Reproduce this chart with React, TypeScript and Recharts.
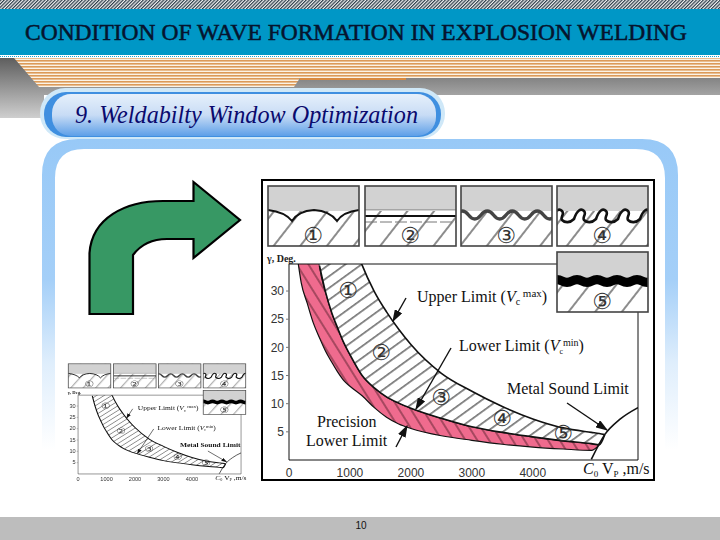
import React from 'react';
import { Area, ComposedChart, Line, ReferenceLine, XAxis, YAxis } from 'recharts';

// values: plate velocity (m/s) against collision angle (deg)
const VELOCITY = [150, 200, 300, 400, 500, 600, 700, 800, 900, 1000, 1200, 1400, 1600, 1800, 2000, 2500, 3000, 3500, 4000, 4500, 4960, 5090, 5180, 5426, 5726];
const PRECISION_LIMIT = [35, 31.5, 27.8, 24.3, 21.7, 19.3, 17.4, 15.6, 14.1, 13.1, 11.4, 9.3, 7.6, 6.4, 5.6, 4.3, 3.5, 2.8, 2.3, 1.95, 1.7, 2.7, null, null, null];
const LOWER_LIMIT = [70, 65, 56, 46, 34.5, 29.8, 26.2, 23.4, 20.8, 18.7, 15, 12.8, 11.2, 10.1, 9.2, 7.4, 5.9, 4.9, 4.1, 3.4, 2.9, 2.7, 4.5, null, null];
const UPPER_LIMIT = [null, null, null, null, 62, 56, 52, 48, 44.5, 41, 34.6, 29.9, 26.3, 23.2, 20.5, 15.4, 12.2, 9.5, 7.3, 5.7, 4.9, 4.7, 4.5, null, null];
const SOUND_LIMIT = [null, null, null, null, null, null, null, null, null, null, null, null, null, null, null, null, null, null, null, null, 0.1, null, 4.5, 7.2, 9.3];

const X_TICKS = [0, 1000, 2000, 3000, 4000];
const Y_TICKS = [5, 10, 15, 20, 25, 30];
const X_MAX = 5726;
const Y_MAX = 34.8;

const PANEL_X = [268, 365, 461, 557];
const CIRCLED = ['①', '②', '③', '④', '⑤'];

const chartData = VELOCITY.map((v, i) => {
    const low = PRECISION_LIMIT[i];
    const mid = LOWER_LIMIT[i];
    const high = UPPER_LIMIT[i];
    return {
        v,
        pink: low != null && mid != null ? [low, mid] : null,
        band: mid != null && high != null ? [mid, high] : null,
        sound: SOUND_LIMIT[i],
    };
});

const SERIF = '"Liberation Serif", serif';
const SANS = '"Liberation Sans", sans-serif';

// wavy interface line for the small sketches
function wave(x0: number, x1: number, y: number, amp: number, period: number) {
    let d = `M${x0},${y} Q${x0 + period / 4},${y - amp * 2} ${x0 + period / 2},${y}`;
    for (let x = x0 + period / 2; x < x1; x += period / 2) d += ` T${x + period / 2},${y}`;
    return d;
}

// same idea, but each crest curls over
function curl(x0: number, x1: number, y: number) {
    let d = `M${x0},${y}`;
    for (let x = x0; x < x1; x += 22) d += ' c3,-9 7,-11 10,-8 c3,3 -2,6 0,9 c3,3 8,3 12,-1';
    return d;
}

function Panel({ x, y, n, id, children }: { x: number; y: number; n: number; id: string; children?: React.ReactNode }) {
    const clip = `clip-${id}-${n}`;
    return (
        <g>
            <clipPath id={clip}><rect x={x} y={y} width={91} height={60} /></clipPath>
            <rect x={x} y={y} width={91} height={60} fill={`url(#sketch-${id})`} />
            <rect x={x} y={y} width={91} height={y > 200 ? 27 : 25} fill="#d2d2d2" />
            <g clipPath={`url(#${clip})`}>{children}</g>
            <rect x={x} y={y} width={91} height={60} fill="none" stroke="#444" strokeWidth={1.6} />
            <text x={x + 45} y={y + 57} fontFamily="DejaVu Sans" fontSize={22} textAnchor="middle" fill="#333">{CIRCLED[n]}</text>
        </g>
    );
}

function Figure({ id, mini }: { id: string; mini?: boolean }) {
    const lineWidth = mini ? 2.4 : 1.6;
    return (
        <div style={{ position: 'relative', width: 394, height: 302, background: '#fff' }}>
            <ComposedChart
                width={394}
                height={302}
                data={chartData}
                margin={{ top: 85, right: 17, bottom: 0, left: 0 }}
                style={{ position: 'absolute', left: 0, top: 0 }}
            >
                <defs>
                    <pattern id={`hatch-${id}`} patternUnits="userSpaceOnUse" width={9.5} height={9.5} patternTransform="rotate(-36)">
                        <rect width={9.5} height={9.5} fill="#fff" />
                        <line x1={0} y1={4.7} x2={9.5} y2={4.7} stroke="#000" strokeWidth={0.9} />
                    </pattern>
                    <pattern id={`pink-${id}`} patternUnits="userSpaceOnUse" width={10} height={10} patternTransform="rotate(58)">
                        <rect width={10} height={10} fill="#ef6b8e" />
                        <line x1={0} y1={5} x2={10} y2={5} stroke="#3a1018" strokeWidth={0.8} />
                    </pattern>
                </defs>
                <XAxis
                    dataKey="v"
                    type="number"
                    domain={[0, X_MAX]}
                    ticks={X_TICKS}
                    allowDataOverflow
                    height={21}
                    tickLine={false}
                    axisLine={{ stroke: '#111' }}
                    tick={{ fontFamily: SANS, fontSize: 12, fill: '#333' }}
                    tickMargin={2}
                />
                <YAxis
                    type="number"
                    domain={[0, Y_MAX]}
                    ticks={Y_TICKS}
                    allowDataOverflow
                    width={28}
                    tickSize={3}
                    tickLine={{ stroke: '#777' }}
                    axisLine={{ stroke: '#111' }}
                    tick={{ fontFamily: SANS, fontSize: 12, fill: '#333' }}
                />
                {!mini && (
                    <Area
                        dataKey="pink"
                        type="monotone"
                        fill={`url(#pink-${id})`}
                        fillOpacity={1}
                        stroke="#111"
                        strokeWidth={1.2}
                        dot={false}
                        activeDot={false}
                        isAnimationActive={false}
                    />
                )}
                <Area
                    dataKey="band"
                    type="monotone"
                    fill={`url(#hatch-${id})`}
                    fillOpacity={1}
                    stroke="#111"
                    strokeWidth={lineWidth}
                    dot={false}
                    activeDot={false}
                    isAnimationActive={false}
                />
                <Line dataKey="sound" type="monotone" stroke="#111" strokeWidth={1.6} dot={false} activeDot={false} connectNulls isAnimationActive={false} />
                <ReferenceLine y={Y_MAX} stroke="#111" />
                <ReferenceLine x={X_MAX} stroke="#111" />
            </ComposedChart>

            <svg width={394} height={302} viewBox="261 179 394 302" style={{ position: 'absolute', left: 0, top: 0 }}>
                <defs>
                    <pattern id={`sketch-${id}`} patternUnits="userSpaceOnUse" width={21} height={21} patternTransform="rotate(-52)">
                        <rect width={21} height={21} fill="#fff" />
                        <line x1={0} y1={10} x2={21} y2={10} stroke="#000" strokeWidth={0.9} />
                    </pattern>
                    <marker id={`head-${id}`} markerWidth={9} markerHeight={6} refX={8} refY={3} orient="auto">
                        <path d="M0,0 L9,3 L0,6 Z" fill="#111" />
                    </marker>
                </defs>

                <Panel x={PANEL_X[0]} y={186} n={0} id={id}>
                    <path d="M268,210 Q285,212 292,221 Q298,211 314,210 Q330,211 337,221 Q343,212 359,210" fill="none" stroke="#111" strokeWidth={2} />
                </Panel>
                <Panel x={PANEL_X[1]} y={186} n={1} id={id}>
                    <line x1={365} y1={209.5} x2={456} y2={209.5} stroke="#999" strokeWidth={0.8} />
                    <line x1={365} y1={216} x2={456} y2={216} stroke="#111" strokeWidth={2} />
                    <line x1={365} y1={222} x2={456} y2={222} stroke="#777" strokeWidth={1} strokeDasharray="12 3" />
                </Panel>
                <Panel x={PANEL_X[2]} y={186} n={2} id={id}>
                    <path d={wave(456, 556, 215, 4, 25)} fill="none" stroke="#444" strokeWidth={3.4} />
                </Panel>
                <Panel x={PANEL_X[3]} y={186} n={3} id={id}>
                    <path d={curl(552, 652, 219)} fill="none" stroke="#111" strokeWidth={2.6} />
                </Panel>

                <Panel x={PANEL_X[3]} y={252} n={4} id={id}>
                    <path d={wave(552, 652, 281, 1.4, 20)} fill="none" stroke="#000" strokeWidth={9} />
                </Panel>

                <text x={267} y={262} fontFamily={SERIF} fontWeight={700} fontSize={10} fill="#222">γ, Deg.</text>

                <g fontFamily="DejaVu Sans" fontSize={22} textAnchor="middle" fill="#333">
                    <text x={348} y={298}>①</text>
                    <text x={381} y={360}>②</text>
                    <text x={441} y={405}>③</text>
                    <text x={502} y={426}>④</text>
                    <text x={563} y={441}>⑤</text>
                </g>

                <g fontFamily={SERIF} fontSize={16} fill="#111">
                    <text x={417} y={302}>
                        Upper Limit (<tspan fontStyle="italic">V</tspan><tspan fontSize={10} dy={3}>c</tspan><tspan fontSize={11} dy={-8}> max</tspan><tspan dy={5}>)</tspan>
                    </text>
                    <text x={459} y={351}>
                        Lower Limit  (<tspan fontStyle="italic">V</tspan><tspan fontSize={8} dy={3}>c</tspan><tspan fontSize={10} dy={-8}>min</tspan><tspan dy={5}>)</tspan>
                    </text>
                    <text x={507} y={394} fontWeight={mini ? 700 : 400}>Metal Sound Limit</text>
                    {!mini && <text x={317} y={427}>Precision</text>}
                    {!mini && <text x={306} y={446}>Lower Limit</text>}
                    <text x={583} y={474}>
                        <tspan fontStyle="italic">C</tspan><tspan fontSize={9} dy={3}>0</tspan><tspan dy={-3}> V</tspan><tspan fontSize={9} dy={3}>P</tspan><tspan dy={-3}> ,m/s</tspan>
                    </text>
                </g>

                <g stroke="#111" strokeWidth={1.4}>
                    <line x1={406} y1={298} x2={393} y2={321} markerEnd={`url(#head-${id})`} />
                    <line x1={451} y1={348} x2={416} y2={409} markerEnd={`url(#head-${id})`} />
                    <line x1={567} y1={403} x2={607} y2={430} markerEnd={`url(#head-${id})`} />
                    {!mini && <line x1={396} y1={447} x2={407} y2={426} markerEnd={`url(#head-${id})`} />}
                </g>
            </svg>
        </div>
    );
}

function Slide() {
    return (
        <svg width={720} height={540} style={{ position: 'absolute', left: 0, top: 0 }}>
            <defs>
                <pattern id="topHatch" patternUnits="userSpaceOnUse" width={2.4} height={2.4} patternTransform="rotate(45)">
                    <rect width={2.4} height={2.4} fill="#f0f0f0" />
                    <rect width={1.2} height={2.4} fill="#2e3e4a" />
                </pattern>
                <pattern id="orangeStripes" patternUnits="userSpaceOnUse" width={4} height={3}>
                    <rect width={4} height={3} fill="#fbf3e6" />
                    <rect width={4} height={1.6} fill="#dc9a58" />
                </pattern>
                <pattern id="dots" patternUnits="userSpaceOnUse" width={2} height={2}>
                    <rect width={2} height={2} fill="#fff" />
                    <rect width={1} height={1} fill="#1aa6d4" />
                </pattern>
                <linearGradient id="grayFade" x1={0} y1={58} x2={0} y2={118} gradientUnits="userSpaceOnUse">
                    <stop offset="0" stopColor="#5e5e5e" />
                    <stop offset="1" stopColor="#cfcfcf" />
                </linearGradient>
                <linearGradient id="pillFill" x1={0} y1={0} x2={0} y2={1}>
                    <stop offset="0" stopColor="#e6f0fb" />
                    <stop offset="0.5" stopColor="#c8dcf5" />
                    <stop offset="1" stopColor="#5d9fe8" />
                </linearGradient>
                <linearGradient id="frameFade" x1={0} y1={139} x2={0} y2={450} gradientUnits="userSpaceOnUse">
                    <stop offset="0" stopColor="#98c9f7" />
                    <stop offset="0.45" stopColor="#a4cff8" />
                    <stop offset="0.72" stopColor="#dfeefc" />
                    <stop offset="1" stopColor="#ffffff" />
                </linearGradient>
            </defs>

            <rect width={720} height={540} fill="#fff" />
            <rect x={0} y={58} width={720} height={37} fill="url(#grayFade)" />
            <rect x={0} y={95} width={44} height={23} fill="url(#grayFade)" />
            <path d="M14,58 L720,58 L720,78 L300,78 L294,87 L39,87 Z" fill="url(#orangeStripes)" />
            <rect x={300} y={78} width={106} height={2} fill="#d98a40" />

            <rect x={0} y={0} width={720} height={9} fill="url(#topHatch)" />
            <rect x={0} y={9} width={720} height={46} fill="#0097c6" />
            <rect x={0} y={55} width={720} height={3} fill="url(#dots)" />

            <text x={25} y={40} fontFamily={SERIF} fontSize={23} textLength={662} lengthAdjust="spacingAndGlyphs" fill="#06142e" stroke="#06142e" strokeWidth={0.5}>
                CONDITION OF WAVE FORMATION IN EXPLOSION WELDING
            </text>

            <path d="M42,500 L42,175 Q42,139 78,139 L642,139 Q678,139 678,175 L678,500 L665,500 L665,178 Q665,149 636,149 L84,149 Q55,149 55,178 L55,500 Z" fill="url(#frameFade)" />

            <rect x={40} y={88} width={405} height={51} rx={25} fill="#cfe8f8" />
            <rect x={44} y={92} width={397} height={45} rx={22} fill="#3f8fe0" />
            <rect x={52} y={94} width={384} height={42} rx={19} fill="url(#pillFill)" />
            <text x={75} y={123} fontFamily={SERIF} fontStyle="italic" fontSize={26} textLength={343} lengthAdjust="spacingAndGlyphs" fill="#0a0a6e">
                9. Weldabilty Window Optimization
            </text>

            <path
                d="M89.5,314 L133,314 L133,255 Q145,239 167,239 L193.5,239 L193.5,258 L240,220 L193.5,182 L193.5,201 L163,201 C125,201 92,218 89.5,253 Z"
                fill="#379864"
                stroke="#000"
                strokeWidth={2.2}
            />

            <rect x={0} y={517} width={720} height={23} fill="#bdbdbd" />
            <text x={361} y={529} fontFamily={SANS} fontSize={10} textAnchor="middle" fill="#111">10</text>
        </svg>
    );
}

export default function App() {
    return (
        <div style={{ position: 'absolute', left: 0, top: 0, width: 720, height: 540, overflow: 'hidden', background: '#fff' }}>
            <Slide />
            <div style={{ position: 'absolute', left: 261, top: 179 }}>
                <Figure id="main" />
            </div>
            <div style={{ position: 'absolute', left: 261, top: 179, width: 394, height: 302, boxSizing: 'border-box', border: '2px solid #000' }} />
            <div style={{ position: 'absolute', left: 65, top: 361, transform: 'scale(0.467, 0.402)', transformOrigin: '0 0', filter: 'blur(0.7px)' }}>
                <Figure id="mini" mini />
            </div>
        </div>
    );
}
